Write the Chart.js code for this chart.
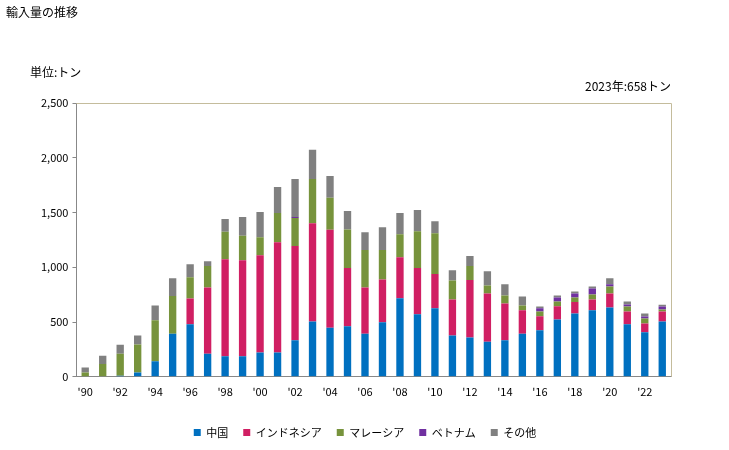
<!DOCTYPE html>
<html>
<head>
<meta charset="utf-8">
<script src="https://cdn.jsdelivr.net/npm/chart.js@4/dist/chart.umd.min.js"></script>
<style>
  body { margin: 0; background: #fff; font-family: "Noto Sans CJK JP", sans-serif; }
  #wrap { position: relative; width: 729px; height: 450px; }
  .txt { position: absolute; font-size: 12px; color: #000; white-space: nowrap; }
</style>
</head>
<body>
<div id="wrap">
  <canvas id="chart" width="729" height="450"></canvas>
  <div class="txt" style="left:6px; top:3px;">輸入量の推移</div>
  <div class="txt" style="left:30px; top:63px;">単位:トン</div>
  <div class="txt" style="right:58px; top:77px;">2023年:658トン</div>
</div>
<script>
const years = ["'90","'91","'92","'93","'94","'95","'96","'97","'98","'99","'00","'01","'02","'03","'04","'05","'06","'07","'08","'09","'10","'11","'12","'13","'14","'15","'16","'17","'18","'19","'20","'21","'22","'23"];

const china     = [0, 0, 9, 40, 141, 394, 480, 211, 187, 187, 223, 223, 333, 504, 449, 461, 394, 498, 718, 571, 626, 376, 358, 321, 333, 394, 425, 523, 578, 608, 633, 480, 406, 504];
const indonesia = [0, 0, 0, 0, 0, 0, 235, 605, 886, 877, 887, 1006, 862, 899, 893, 532, 422, 391, 373, 422, 312, 330, 525, 440, 336, 214, 128, 122, 104, 98, 128, 116, 80, 92];
const malaysia  = [40, 116, 202, 256, 376, 343, 193, 196, 251, 223, 165, 266, 254, 403, 293, 352, 342, 269, 211, 337, 373, 174, 129, 73, 74, 43, 43, 43, 42, 46, 64, 46, 46, 18];
const vietnam   = [0, 0, 0, 0, 0, 0, 0, 0, 0, 0, 0, 0, 10, 0, 0, 0, 0, 0, 0, 0, 0, 0, 0, 0, 0, 0, 31, 36, 37, 55, 19, 18, 18, 28];
const others    = [45, 77, 82, 80, 134, 162, 119, 43, 116, 171, 229, 238, 347, 266, 199, 168, 162, 208, 193, 192, 110, 92, 91, 129, 101, 83, 15, 19, 18, 18, 55, 28, 28, 16];

const ctx = document.getElementById('chart').getContext('2d');

// top and right frame lines of the plot area
const frame = {
  id: 'frame',
  afterDraw(chart) {
    const a = chart.chartArea;
    const c = chart.ctx;
    c.save();
    c.strokeStyle = '#c4bc9c';
    c.lineWidth = 1;
    c.beginPath();
    c.moveTo(a.left, a.top + 0.5);
    c.lineTo(a.right + 0.5, a.top + 0.5);
    c.lineTo(a.right + 0.5, a.bottom);
    c.stroke();
    c.restore();
  }
};

// legend is centred a bit right of the layout box in the original
const legendShift = {
  id: 'legendShift',
  afterLayout(chart) {
    chart.legend.left += 11;
    chart.legend.right += 11;
  }
};

const font = { family: '"Noto Sans CJK JP", sans-serif', size: 11 };

new Chart(ctx, {
  type: 'bar',
  data: {
    labels: years,
    datasets: [
      { label: '中国', data: china, backgroundColor: '#0070c0' },
      { label: 'インドネシア', data: indonesia, backgroundColor: '#d01f63' },
      { label: 'マレーシア', data: malaysia, backgroundColor: '#77933c' },
      { label: 'ベトナム', data: vietnam, backgroundColor: '#7030a0' },
      { label: 'その他', data: others, backgroundColor: '#808080' }
    ]
  },
  options: {
    responsive: false,
    animation: false,
    datasets: { bar: { barPercentage: 0.42, categoryPercentage: 1.0 } },
    layout: { padding: { top: 103, right: 58, left: 37, bottom: 2 } },
    plugins: {
      tooltip: { enabled: false },
      legend: {
        position: 'bottom',
        labels: { boxWidth: 7, boxHeight: 7, padding: 15, color: '#000', font: { family: font.family, size: 11 } }
      }
    },
    scales: {
      x: {
        stacked: true,
        grid: { display: false },
        border: { color: '#888' },
        // empty title used only as spacer between tick labels and legend
        title: { display: true, text: ' ', font: { size: 14, lineHeight: 1 }, padding: 0 },
        ticks: {
          autoSkip: false, maxRotation: 0, color: '#000', font: font, padding: 0,
          callback: (v, i) => (i % 2 === 0 ? years[i] : '')
        }
      },
      y: {
        stacked: true,
        min: 0, max: 2500,
        grid: { drawOnChartArea: false, drawTicks: true, tickLength: 4, color: '#888' },
        border: { color: '#888' },
        ticks: {
          stepSize: 500, color: '#000', font: font, padding: 4,
          callback: v => v.toLocaleString('en-US')
        }
      }
    }
  },
  plugins: [frame, legendShift]
});
</script>
</body>
</html>
